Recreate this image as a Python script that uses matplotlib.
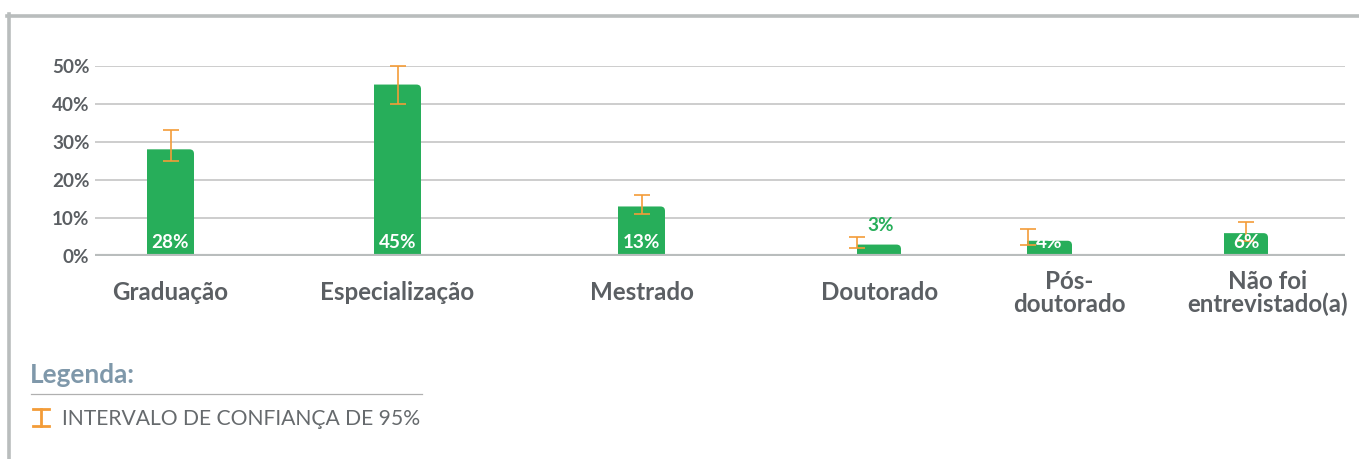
import matplotlib
matplotlib.use("Agg")
import matplotlib.pyplot as plt
from matplotlib.lines import Line2D
from matplotlib.path import Path
from matplotlib.patches import PathPatch

# ---- data ----
categories = ["Graduação", "Especialização", "Mestrado", "Doutorado",
              "Pós-\ndoutorado", "Não foi\nentrevistado(a)"]
values = [28, 45, 13, 3, 4, 6]
ci_low = [25, 40, 11, 2, 3, 4]
ci_high = [33, 50, 16, 5, 7, 9]
yticks = [0, 10, 20, 30, 40, 50]
ytick_labels = ["0%", "10%", "20%", "30%", "40%", "50%"]
legend_title = "Legenda:"
legend_text = "INTERVALO DE CONFIANÇA DE 95%"

# ---- layout (x in axis units that follow the original pixel grid) ----
bar_pos = [170.5, 397.5, 641.5, 879, 1049.5, 1246]
bar_w = [47, 47, 47, 44, 45, 44]
err_shift = [0, 0, 0, -22, -22, 0]
label_pos = [170, 397, 641.5, 880, 1069, 1268]

W, H = 1359, 459
GREEN = "#27AE5A"
ORANGE = "#F39C38"
TXT = "#5b5f63"
FONT = ["Lato", "DejaVu Sans"]
plt.rcParams["font.family"] = FONT

fig = plt.figure(figsize=(W / 100, H / 100), dpi=100)

def fx(px):
    return px / W

def fy(py):
    return 1 - py / H

ax_left, ax_right, ax_top, ax_bot = 95, 1345, 65.5, 256
ax = fig.add_axes([fx(ax_left), fy(ax_bot), fx(ax_right - ax_left), (ax_bot - ax_top) / H])
ax.set_xlim(ax_left, ax_right)
ax.set_ylim(0, 50)
for s in ax.spines.values():
    s.set_visible(False)

# grid lines
for t in yticks[1:]:
    ax.axhline(t, color="#c9c9c9", lw=1.3, zorder=0)
ax.axhline(0, color="#b9bdbd", lw=3, zorder=3)

ax.set_yticks(yticks)
ax.set_yticklabels(ytick_labels, fontsize=13.6, fontweight="bold", color=TXT)
ax.tick_params(axis="y", length=0, pad=4)
ax.set_xticks([])

bars = ax.bar(bar_pos, values, width=bar_w, color=GREEN, zorder=2)

# give each bar a rounded top-right corner
ry_per_px = 50 / (ax_bot - ax_top)
r_px = 4.5
for b in bars:
    x0, y0 = b.get_x(), b.get_y()
    w, h = b.get_width(), b.get_height()
    x1, y1 = x0 + w, y0 + h
    rx, ry = r_px, r_px * ry_per_px
    verts = [(x0, y0), (x1, y0), (x1, y1 - ry), (x1, y1), (x1 - rx, y1),
             (x0, y1), (x0, y0)]
    codes = [Path.MOVETO, Path.LINETO, Path.LINETO, Path.CURVE3, Path.CURVE3,
             Path.LINETO, Path.CLOSEPOLY]
    b.set_visible(False)
    ax.add_patch(PathPatch(Path(verts, codes), facecolor=GREEN, edgecolor="none", zorder=2))

err_x = [p + d for p, d in zip(bar_pos, err_shift)]
lower = [v - l for v, l in zip(values, ci_low)]
upper = [h - v for v, h in zip(values, ci_high)]
ax.errorbar(err_x, values, yerr=[lower, upper], fmt="none", ecolor=ORANGE,
            elinewidth=1.2, capsize=6, capthick=1.2, zorder=4, clip_on=False)

for p, v in zip(bar_pos, values):
    if v >= 4:
        ax.annotate(f"{v}%", xy=(p, 0), xytext=(0, 9.5), textcoords="offset points",
                    ha="center", va="center", color="white", fontsize=13.6,
                    fontweight="bold", zorder=5)
    else:
        ax.annotate(f"{v}%", xy=(p, v), xytext=(1, 14), textcoords="offset points",
                    ha="center", va="center", color=GREEN, fontsize=13.6,
                    fontweight="bold", zorder=5)

for p, c in zip(label_pos, categories):
    ax.annotate(c, xy=(p, 0), xycoords=("data", "axes fraction"),
                xytext=(0, -37 * 0.72), textcoords="offset points",
                ha="center", va="center", color=TXT, fontsize=17.4,
                fontweight="bold", linespacing=0.98)

# frame
fig.add_artist(Line2D([fx(7), fx(W)], [fy(15.5), fy(15.5)], color="#b9bdbd", lw=2.6))
fig.add_artist(Line2D([fx(9.2), fx(9.2)], [fy(14), fy(H)], color="#b9bdbd", lw=2.6))

# legend
fig.text(fx(30), fy(375), legend_title, ha="left", va="center", fontsize=18.8,
         fontweight="bold", color="#7f98aa")
fig.add_artist(Line2D([fx(31), fx(422)], [fy(394), fy(394)], color="#b0b0b0", lw=0.9))
fig.add_artist(Line2D([fx(41), fx(41)], [fy(409), fy(426)], color=ORANGE, lw=2))
fig.add_artist(Line2D([fx(33), fx(49)], [fy(409), fy(409)], color=ORANGE, lw=2))
fig.add_artist(Line2D([fx(33), fx(49)], [fy(426), fy(426)], color=ORANGE, lw=2))
fig.text(fx(62), fy(419), legend_text, ha="left", va="center", fontsize=15.2,
         color="#666a6d")

fig.savefig("out.png", dpi=100, facecolor="white")
